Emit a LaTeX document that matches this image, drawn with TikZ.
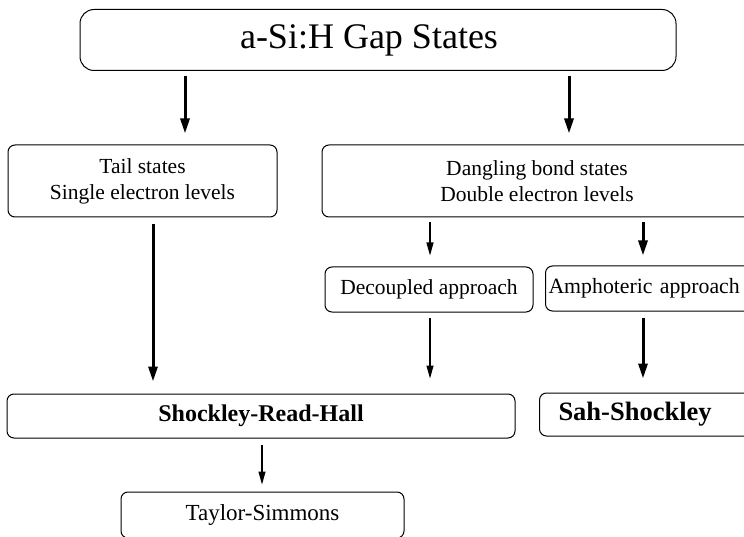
\documentclass[tikz,border=0pt]{standalone}
\usepackage{fontspec}
\setmainfont{Liberation Serif}
\usetikzlibrary{arrows.meta}
\begin{document}
\begin{tikzpicture}[x=1pt,y=-1pt,
  box/.style={draw, line width=1pt, rounded corners=7pt, inner sep=0pt, anchor=center},
  reg/.style={font=\fontsize{21.5}{26}\selectfont},
  bld/.style={font=\fontsize{24}{28}\selectfont\bfseries},
  thk/.style={line width=3pt, -{Triangle[length=15pt,width=9pt]}},
  thn/.style={line width=1.1pt, -{Triangle[length=13pt,width=7pt]}}]
\useasboundingbox (0,0) rectangle (744,537);
\clip (0,0) rectangle (744,537);

\node[box, rounded corners=14pt, minimum width=596pt, minimum height=61pt,
      font=\fontsize{36}{40}\selectfont] (top) at (378,40) {\hspace*{-18pt}a-Si:H Gap States};
\node[box, reg, minimum width=269pt, minimum height=72pt, align=center] (tail) at (142.5,181)
      {Tail states\\Single electron levels};
\node[box, reg, minimum width=430pt, minimum height=72pt, align=center] (dang) at (537,181)
      {Dangling bond states\\Double electron levels};
\node[box, reg, minimum width=208pt, minimum height=45pt] (dec) at (429,289.5) {Decoupled approach};
\node[box, font=\fontsize{21.8}{26}\selectfont, minimum height=45pt, text width=207pt, inner xsep=3pt, align=left, anchor=west]
      (amph) at (545,288.5) {Amphoteric approach};
\node[box, bld, minimum width=508pt, minimum height=44pt] (srh) at (261,416) {Shockley-Read-Hall};
\node[box, font=\fontsize{26.5}{30}\selectfont\bfseries, minimum height=43pt, text width=200pt, inner xsep=19pt, align=left, anchor=west]
      (sah) at (539,414.5) {Sah-Shockley};
\node[box, font=\fontsize{23}{27}\selectfont, minimum width=283pt, minimum height=46pt] (ts) at (262.5,515) {Taylor-Simmons};

\coordinate (xa) at (185,0);
\coordinate (xb) at (569,0);
\coordinate (xc) at (153,0);
\coordinate (xd) at (430,0);
\coordinate (xe) at (643,0);
\coordinate (xf) at (262,0);

\draw[thk, shorten <=5pt, shorten >=11pt] (top.south -| xa) -- (tail.north -| xa);
\draw[thk, shorten <=5pt, shorten >=11pt] (top.south -| xb) -- (dang.north -| xb);
\draw[thk, shorten <=7pt, shorten >=12pt] (tail.south -| xc) -- (srh.north -| xc);
\draw[thn, shorten <=5pt, shorten >=11pt] (dang.south -| xd) -- (dec.north -| xd);
\draw[thk, shorten <=5pt, shorten >=10pt] (dang.south -| xe) -- (amph.north -| xe);
\draw[thn, shorten <=5pt, shorten >=15pt] (dec.south -| xd) -- (srh.north -| xd);
\draw[thk, shorten <=6pt, shorten >=14pt] (amph.south -| xe) -- (sah.north -| xe);
\draw[thn, shorten <=6pt, shorten >=7pt] (srh.south -| xf) -- (ts.north -| xf);
\end{tikzpicture}
\end{document}
